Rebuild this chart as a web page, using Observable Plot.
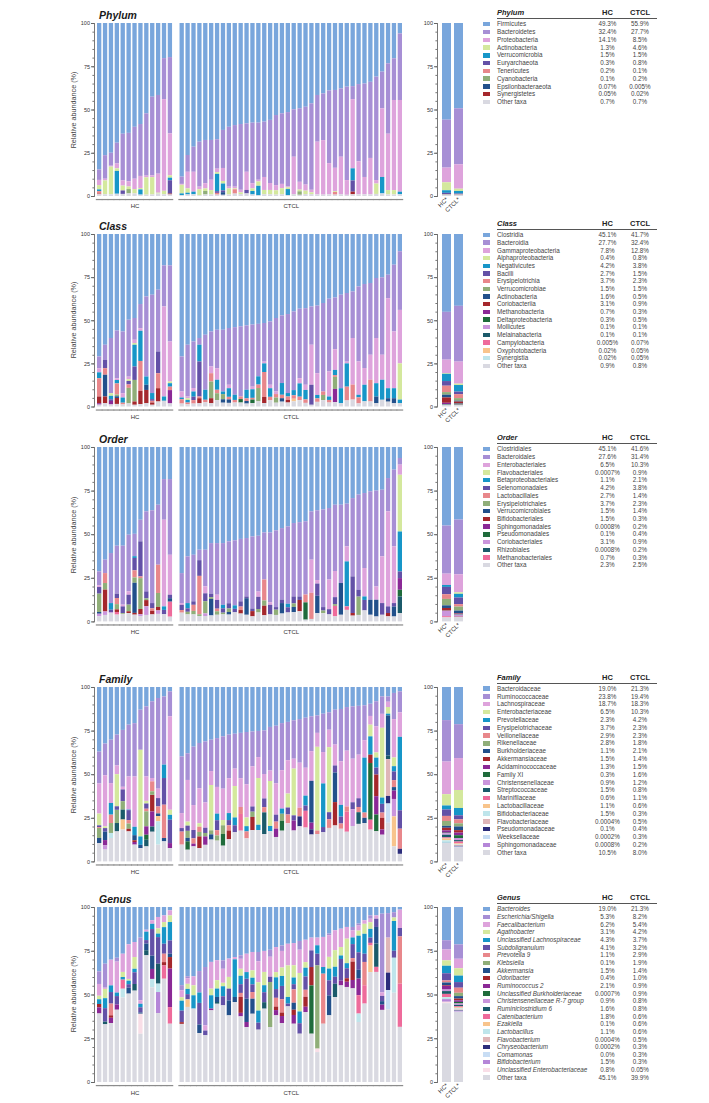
<!DOCTYPE html>
<html><head><meta charset="utf-8">
<script src="https://cdn.jsdelivr.net/npm/d3@7"></script>
<script src="https://cdn.jsdelivr.net/npm/@observablehq/plot@0.6"></script>
<style>
body{margin:0;background:#fff;}
#page{position:relative;width:709px;height:1103px;overflow:hidden;font-family:"Liberation Sans",Arial,Helvetica,sans-serif;color:#333;}
#page svg{position:absolute;}
.title{position:absolute;font-weight:bold;font-style:italic;font-size:10.5px;line-height:12px;color:#1a1a1a;white-space:nowrap;}
.ylab{position:absolute;width:140px;height:10px;line-height:10px;font-size:7.2px;color:#444;text-align:center;transform:rotate(-90deg);white-space:nowrap;}
.legend{position:absolute;width:180px;}
.legend div, .legend span{position:absolute;white-space:nowrap;}
.hdr{font-weight:bold;font-size:7.5px;line-height:8px;color:#222;}
.lrow{left:0;width:180px;font-size:6.3px;color:#444;}
.sw{left:0;width:7px;height:4.4px;}
.nm{left:14px;}
.v1{left:104.5px;width:40px;text-align:center;}
.v2{left:137px;width:40px;text-align:center;}
</style></head>
<body><div id="page"></div>
<script>
// ---------- palette ----------
const palette = ["#79a6dc","#a78fd5","#dea3dc","#d4e89d","#1796c8","#6351a7","#e8878b","#90ae79","#22508b","#a5272c","#8b2996","#1f6b3b","#ca95dc","#1b5a6a","#ee6b9b","#f8c48c","#bfe5eb","#dfb6b8","#2c2d7b","#c8ddf4","#b586d8","#f9dee7"];
const otherColor = "#d9d9e1";

// ---------- PHYLUM ----------
const phylumNames = ["Firmicutes","Bacteroidetes","Proteobacteria","Actinobacteria","Verrucomicrobia","Euryarchaeota","Tenericutes","Cyanobacteria","Epsilonbacteraeota","Synergistetes","Other taxa"];
const phylumCodes = ["Fir","Bac","Pro","Act","Ver","Eur","Ten","Cya","Eps","Syn","Oth"];
const phylumHCText = ["49.3%","32.4%","14.1%","1.3%","1.5%","0.3%","0.2%","0.1%","0.07%","0.05%","0.7%"];
const phylumCTCLText = ["55.9%","27.7%","8.5%","4.6%","1.5%","0.8%","0.1%","0.2%","0.005%","0.02%","0.7%"];
const phylumHC = [
{Fir:84.7,Bac:6,Pro:3,Act:2.5,Ver:1,Ten:1.5,Syn:0.3,Oth:1},
{Fir:76.4,Bac:13.6,Pro:1,Act:8,Oth:1},
{Fir:75,Bac:7.5,Pro:0.5,Act:16,Oth:1},
{Fir:69.2,Bac:12,Pro:2.8,Act:1.5,Ver:13.2,Oth:1.3},
{Fir:64,Bac:27,Pro:3,Act:2.8,Eur:2,Oth:1.2},
{Fir:63.5,Bac:28,Pro:3,Act:1.5,Cya:2.5,Oth:1.5},
{Fir:60,Bac:30,Pro:6,Act:2.5,Oth:1.5},
{Fir:58.4,Bac:30,Pro:7,Act:0.8,Ver:3,Oth:0.8},
{Fir:52.2,Bac:36,Pro:1,Act:10,Oth:0.8},
{Fir:42.6,Bac:45.5,Pro:1,Act:10,Oth:0.9},
{Fir:41.6,Bac:45.5,Pro:11,Act:0.5,Oth:1.4},
{Fir:20.3,Bac:23.7,Pro:53,Act:2,Oth:1},
{Fir:19.7,Bac:44.1,Pro:24.2,Act:1.4,Ver:1.5,Eur:7.7,Syn:0.5,Oth:0.9}];
const phylumCTCL = [
{Fir:88.8,Bac:4.2,Pro:0.5,Act:5,Ver:1,Oth:0.5},
{Fir:76.3,Bac:9.7,Pro:9.6,Act:2.5,Ver:1,Oth:0.9},
{Fir:71.5,Bac:14.5,Pro:11.5,Ver:1.5,Oth:1},
{Fir:68.6,Bac:26,Pro:1.5,Act:3.5,Oth:0.4},
{Fir:67.6,Bac:25,Pro:3,Act:1.5,Cya:2,Oth:0.9},
{Fir:67.6,Bac:23,Pro:6,Act:2.5,Oth:0.9},
{Fir:67.2,Bac:17,Pro:2,Act:1,Ver:10,Eur:1,Ten:1,Oth:0.8},
{Fir:61.8,Bac:22,Pro:7.5,Act:1.5,Ver:4,Eur:1,Eps:1.5,Oth:0.7},
{Fir:60,Bac:34.6,Pro:1,Act:3.5,Oth:0.9},
{Fir:59,Bac:35.6,Pro:1,Act:0.5,Ten:2.5,Oth:1.4},
{Fir:58.4,Bac:38,Pro:1.5,Act:1,Oth:1.1},
{Fir:58,Bac:28,Pro:10.5,Eur:2,Oth:1.5},
{Fir:57.6,Bac:35,Pro:3,Act:1.5,Ver:2,Oth:0.9},
{Fir:57.6,Bac:33,Pro:1,Act:2.5,Ver:5.5,Oth:0.4},
{Fir:57,Bac:32,Pro:7.5,Act:2.5,Oth:1},
{Fir:56,Bac:36.5,Pro:4,Act:2.5,Oth:1},
{Fir:53.2,Bac:40.5,Pro:3,Act:2.5,Oth:0.8},
{Fir:52.2,Bac:40.8,Pro:2.5,Act:3.5,Oth:1},
{Fir:51.5,Bac:43,Pro:0.5,Act:1,Ver:3.5,Oth:0.5},
{Fir:49.9,Bac:27.4,Pro:21.6,Oth:1.1},
{Fir:49.3,Bac:42.5,Pro:4.5,Act:1,Cya:2,Oth:0.7},
{Fir:48.4,Bac:45,Pro:3.5,Act:2,Oth:1.1},
{Fir:46.4,Bac:50,Pro:1.5,Act:1,Oth:1.1},
{Fir:41.6,Bac:27,Pro:30.5,Oth:0.9},
{Fir:40.7,Bac:27,Pro:31.5,Oth:0.8},
{Fir:39,Bac:42,Pro:18,Oth:1},
{Fir:38.7,Bac:45,Pro:13.5,Act:0.5,Ten:1.5,Oth:0.8},
{Fir:37.8,Bac:39.5,Pro:21.7,Oth:1},
{Fir:36.8,Bac:54,Pro:8.5,Oth:0.7},
{Fir:36.5,Bac:7.5,Pro:40,Ver:7,Eur:6.5,Syn:1.5,Oth:1},
{Fir:35.3,Bac:44.7,Pro:19,Oth:1},
{Fir:35,Bac:54,Pro:10,Oth:1},
{Fir:34,Bac:44,Pro:21,Oth:1},
{Fir:31,Bac:59.8,Pro:2,Act:6,Oth:1.2},
{Fir:28.1,Bac:21.2,Pro:39.7,Ver:9.5,Oth:1.5},
{Fir:23.3,Bac:40.7,Pro:32.6,Act:2.5,Oth:0.9},
{Fir:20.4,Bac:24.1,Pro:52.1,Act:2.5,Oth:0.9},
{Fir:6,Bac:38.5,Pro:53,Ver:1.5,Oth:1}];

// ---------- CLASS ----------
const classNames = ["Clostridia","Bacteroidia","Gammaproteobacteria","Alphaproteobacteria","Negativicutes","Bacilli","Erysipelotrichia","Verrucomicrobiae","Actinobacteria","Coriobacteriia","Methanobacteria","Deltaproteobacteria","Mollicutes","Melainabacteria","Campylobacteria","Oxyphotobacteria","Synergistia","Other taxa"];
const classCodes = ["Clo","Bac","Gam","Alp","Neg","Bai","Ery","Ver","Act","Cor","Met","Del","Mol","Mel","Cam","Oxy","Syn","Oth"];
const classHCText = ["45.1%","27.7%","7.8%","0.4%","4.2%","2.7%","3.7%","1.5%","1.6%","3.1%","0.7%","0.3%","0.1%","0.1%","0.005%","0.02%","0.02%","0.9%"];
const classCTCLText = ["41.7%","32.4%","12.8%","0.8%","3.8%","1.5%","2.3%","1.5%","0.5%","0.9%","0.3%","0.5%","0.1%","0.1%","0.07%","0.05%","0.05%","0.8%"];
const classHC = [
{Clo:71,Bac:6.8,Gam:2.4,Neg:3.4,Ery:10.6,Cor:3.9,Met:0.8,Oth:1.1},
{Clo:64.2,Bac:8.8,Bai:4.8,Ery:3.8,Act:12.6,Cor:3.9,Oth:1.9},
{Clo:60.3,Bac:32,Alp:1.5,Neg:2,Bai:1,Met:2,Oth:1.2},
{Clo:56.5,Bac:28,Gam:1,Neg:2,Ery:6.5,Ver:1,Act:1,Cor:3.5,Oth:1.5},
{Clo:56.5,Bac:35.8,Gam:2.5,Neg:3,Ery:1,Oth:1.2},
{Clo:49.7,Bac:33,Gam:1.5,Alp:1,Bai:2,Ery:2,Ver:9,Oth:1.8},
{Clo:48.7,Bac:12.6,Gam:1.9,Alp:1,Neg:12.6,Bai:7.8,Ver:12.5,Cor:1.9,Oth:1},
{Clo:40.6,Bac:14,Gam:1.5,Neg:17.5,Ery:17.3,Cor:7.7,Oth:1.4},
{Clo:36.2,Bac:46.4,Neg:4.8,Act:3,Cor:7.7,Oth:1.9},
{Clo:35.2,Bac:57,Neg:3.5,Bai:1,Ery:1,Cor:1.3,Oth:1},
{Clo:32.3,Bac:35.8,Bai:12.6,Ery:8.7,Cor:7.7,Oth:2.9},
{Clo:18.2,Bac:23.8,Gam:52.2,Neg:2.5,Oth:3.3},
{Clo:18.2,Bac:44.1,Gam:23.2,Alp:1,Neg:2,Ery:2,Met:7.7,Oth:1.8}];
const classCTCL = [
{Clo:71,Bac:20.3,Gam:3.5,Neg:1,Ery:2.5,Oth:1.7},
{Clo:64.2,Bac:30,Gam:1,Alp:1,Neg:1.5,Ery:1,Oth:1.3},
{Clo:62.3,Bac:27,Gam:2,Neg:3,Bai:2,Ery:2,Oth:1.7},
{Clo:60.3,Bac:3.9,Neg:9.7,Bai:20.3,Ery:1,Cor:2.9,Oth:1.9},
{Clo:58.4,Bac:31.9,Neg:5.8,Ery:1.5,Oth:2.4},
{Clo:56.5,Bac:20.3,Gam:3.9,Ery:4.8,Ver:9.7,Cor:2.9,Oth:1.9},
{Clo:55.5,Bac:22.3,Gam:6.7,Neg:5.8,Ery:2,Ver:4,Oth:3.7},
{Clo:55.5,Bac:35.8,Neg:1.5,Ver:3,Act:2,Oth:2.2},
{Clo:54.5,Bac:32.9,Gam:2,Neg:5,Ery:1.5,Act:2,Oth:2.1},
{Clo:54,Bac:39.2,Neg:3,Ery:1.5,Oth:2.3},
{Clo:53.5,Bac:40.7,Ery:1.5,Del:2,Oth:2.3},
{Clo:53,Bac:37.3,Neg:5,Ery:1.5,Act:1.5,Oth:1.7},
{Clo:52.5,Bac:36,Gam:1.5,Neg:5,Ery:1,Del:2,Oth:2},
{Clo:52.1,Bac:30.4,Neg:4.8,Ery:2,Ver:7.7,Oth:3},
{Clo:51.6,Bac:22.4,Gam:1,Neg:5,Ery:14.5,Cor:3.5,Oth:2},
{Clo:50.7,Bac:36.7,Gam:2,Neg:5,Ery:2,Oth:3.6},
{Clo:48.7,Bac:42.6,Gam:1.5,Ery:2,Ver:3,Oth:2.2},
{Clo:47.2,Bac:39.2,Neg:6.8,Ery:2,Act:2,Oth:2.8},
{Clo:46.4,Bac:45.8,Neg:2,Ery:2,Cor:1.5,Oth:2.3},
{Clo:44.9,Bac:45.6,Neg:3,Ery:2,Oxy:1.5,Oth:3},
{Clo:43.3,Bac:40.3,Gam:3,Neg:7.7,Ery:2,Oth:3.7},
{Clo:43,Bac:44.4,Gam:3,Neg:5.5,Ery:2,Oth:2.1},
{Clo:42,Bac:22.2,Gam:23.2,Bai:11.6,Oth:1},
{Clo:41.5,Bac:39.2,Gam:12.6,Neg:2,Ery:2,Oth:2.7},
{Clo:40,Bac:51.3,Ery:2,Ver:3,Oth:3.7},
{Clo:37.5,Bac:42.2,Gam:14.5,Neg:2,Ery:1.5,Oth:2.3},
{Clo:36.8,Bac:30,Gam:12,Neg:3,Ery:1,Ver:7,Met:7.7,Oth:2.5},
{Clo:35.2,Bac:54.2,Neg:8.7,Oth:1.9},
{Clo:34.2,Bac:39.8,Gam:1,Neg:13.5,Ery:8,Oth:3.5},
{Clo:33.3,Bac:27,Gam:27,Ery:8.7,Oth:4},
{Clo:30.4,Bac:43.5,Gam:19.3,Neg:1.5,Ery:3.5,Oth:1.8},
{Clo:29,Bac:48.7,Gam:9.7,Neg:9.6,Oth:3},
{Clo:28.4,Bac:41.6,Gam:14.5,Ery:12.6,Oth:2.9},
{Clo:25.5,Bac:34.8,Gam:26.2,Neg:7.7,Act:3.9,Oth:1.9},
{Clo:25.1,Bac:44.9,Gam:14.5,Neg:11.6,Oth:3.9},
{Clo:23.6,Bac:13.6,Gam:52.2,Neg:5.8,Act:2,Oth:2.8},
{Clo:17.8,Bac:38.7,Gam:32.9,Neg:5.8,Act:2.9,Oth:1.9},
{Clo:10,Bac:34,Gam:31,Alp:21,Neg:2,Oth:2}];

// ---------- ORDER ----------
const orderNames = ["Clostridiales","Bacteroidales","Enterobacteriales","Flavobacteriales","Betaproteobacteriales","Selenomonadales","Lactobacillales","Erysipelotrichales","Verrucomicrobiales","Bifidobacteriales","Sphingomonadales","Pseudomonadales","Coriobacteriales","Rhizobiales","Methanobacteriales","Other taxa"];
const orderCodes = ["Clo","Bac","Ent","Fla","Bet","Sel","Lac","Ery","Ver","Bif","Sph","Pse","Cor","Rhi","Met","Oth"];
const orderHCText = ["45.1%","27.6%","6.5%","0.0007%","1.1%","4.2%","2.7%","3.7%","1.5%","1.5%","0.0008%","0.1%","3.1%","0.0008%","0.7%","2.3%"];
const orderCTCLText = ["41.6%","31.4%","10.3%","0.9%","2.1%","3.8%","1.4%","2.3%","1.4%","0.3%","0.2%","0.4%","0.9%","0.2%","0.3%","2.5%"];
const orderHC = [
{Clo:71.3,Bac:8,Ent:1,Sel:3.8,Ery:10.5,Ver:1,Cor:1.5,Oth:2.9},
{Clo:64.6,Bac:7.7,Lac:5.7,Ery:3.8,Bif:12.5,Cor:2,Oth:3.7},
{Clo:60.8,Bac:28.7,Bet:3.8,Sel:1.5,Cor:0.4,Oth:4.8},
{Clo:56.6,Bac:27.5,Sel:2.5,Lac:3.5,Ery:3,Bif:1.5,Met:1.5,Oth:3.9},
{Clo:56.6,Bac:33.8,Ent:1,Sel:3.8,Ery:0.5,Oth:4.3},
{Clo:50.3,Bac:32.5,Ent:1.9,Sel:5.7,Ery:3.8,Bif:1,Oth:4.8},
{Clo:49,Bac:12.6,Bet:1,Sel:7,Lac:4,Ery:3,Ver:17,Bif:1,Oth:3.8},
{Clo:41.7,Bac:12.4,Sel:20.1,Lac:1,Ery:17.7,Bif:3,Cor:1,Oth:3.1},
{Clo:36.9,Bac:45.9,Sel:4,Ery:1,Bif:3.5,Cor:5,Oth:3.7},
{Clo:36.3,Bac:53.2,Sel:3,Lac:1.5,Bif:2,Oth:4},
{Clo:33.1,Bac:34.4,Lac:16.2,Ery:8,Bif:2,Cor:2,Oth:4.3},
{Clo:18.4,Bac:23.3,Ent:49.7,Bet:2,Sel:2.5,Oth:4.1},
{Clo:18.4,Bac:43.4,Ent:22.9,Sel:2,Ver:2,Met:8.6,Oth:2.7}];
const orderCTCL = [
{Clo:72.3,Bac:17.2,Ent:1,Sel:3,Lac:1.5,Oth:5},
{Clo:62.7,Bac:26.8,Bet:3,Sel:2,Ery:1.5,Oth:4},
{Clo:61.8,Bac:26.7,Sel:2,Lac:3.5,Ery:2,Oth:4},
{Clo:58.9,Bac:6,Sel:9,Lac:22,Ery:1,Oth:3.1},
{Clo:58.9,Bac:21,Ent:4,Sel:4.5,Ery:7,Cor:1.5,Oth:3.1},
{Clo:55.1,Bac:29,Sel:2,Ery:1,Ver:9.5,Oth:3.4},
{Clo:55.1,Bac:29.6,Ent:3,Sel:5,Lac:1.5,Ery:2,Oth:3.8},
{Clo:55.1,Bac:35.4,Bet:2,Sel:2.5,Ery:1,Oth:4},
{Clo:54.1,Bac:35.5,Sel:3,Ery:2,Ver:1.5,Oth:3.9},
{Clo:53.5,Bac:37.3,Bet:2,Sel:2,Oth:5.2},
{Clo:52.7,Bac:35.8,Sel:3,Lac:2,Bif:2,Oth:4.5},
{Clo:52.2,Bac:33.5,Sel:1,Ver:9.5,Oth:3.8},
{Clo:51.3,Bac:41.3,Sel:1.5,Bif:3,Oth:2.9},
{Clo:50.9,Bac:32,Ent:3,Sel:7,Ery:2,Oth:5.1},
{Clo:49,Bac:27,Lac:12,Ery:3,Bif:5.5,Oth:3.5},
{Clo:49,Bac:40,Ent:1.5,Sel:5.5,Oth:4},
{Clo:47.8,Bac:44,Sel:1.5,Ery:3,Oth:3.7},
{Clo:46.5,Bac:41,Sel:2,Ver:6,Oth:4.5},
{Clo:45.5,Bac:44.4,Bet:2,Sel:3,Oth:5.1},
{Clo:43.6,Bac:42.1,Sel:4,Ery:2,Ver:3,Oth:5.3},
{Clo:43.1,Bac:42.6,Sel:2,Bif:6.5,Oth:5.8},
{Clo:42.6,Bac:42,Lac:4.5,Pse:9.9,Oth:1},
{Clo:36.9,Bac:27.7,Ent:19,Lac:15,Oth:1.4},
{Clo:36.3,Bac:40,Ent:2,Sel:7,Ver:10,Oth:4.7},
{Clo:35.8,Bac:56,Sel:2,Ery:1.5,Oth:4.7},
{Clo:35,Bac:41,Ent:17,Sel:3,Oth:4},
{Clo:33.1,Bac:38,Ent:15,Sel:4,Ery:1,Met:6,Oth:2.9},
{Clo:33.1,Bac:44.9,Ver:18.2,Oth:3.8},
{Clo:32.5,Bac:24.5,Ent:8.6,Bet:25.8,Met:2,Oth:6.6},
{Clo:29.3,Bac:44.9,Sel:21,Bif:1.5,Oth:3.3},
{Clo:27.3,Bac:54.5,Sel:4,Ery:10.5,Oth:3.7},
{Clo:26.4,Bac:43,Ent:16.3,Bet:2,Sel:6,Oth:6.3},
{Clo:25.4,Bac:62.2,Ver:8.6,Oth:3.8},
{Clo:25,Bac:55,Ent:7.6,Ver:9.6,Oth:2.8},
{Clo:24.5,Bac:38.2,Ent:26.8,Sel:6.7,Oth:3.8},
{Clo:17.8,Bac:19.1,Ent:54.5,Sel:3.8,Bif:1.9,Oth:2.9},
{Clo:13,Bac:44,Ent:32.5,Sel:2,Ver:5.7,Oth:2.8},
{Clo:6.3,Bac:3.8,Ent:5.8,Fla:32.5,Bet:22.9,Sel:3.8,Sph:6.7,Pse:3.8,Rhi:9.5,Oth:4.8}];

// ---------- FAMILY ----------
const familyNames = ["Bacteroidaceae","Ruminococcaceae","Lachnospiraceae","Enterobacteriaceae","Prevotellaceae","Erysipelotrichaceae","Veillonellaceae","Rikenellaceae","Burkholderiaceae","Akkermansiaceae","Acidaminococcaceae","Family XI","Christensenellaceae","Streptococcaceae","Marinifilaceae","Lactobacillaceae","Bifidobacteriaceae","Flavobacteriaceae","Pseudomonadaceae","Weeksellaceae","Sphingomonadaceae","Other taxa"];
const familyCodes = ["Bac","Rum","Lac","Ent","Pre","Ery","Vei","Rik","Bur","Akk","Aci","FXI","Chr","Str","Mar","Lab","Bif","Fla","Pse","Wee","Sph","Oth"];
const familyHCText = ["19.0%","23.8%","18.7%","6.5%","2.3%","3.7%","2.9%","2.8%","1.1%","1.5%","1.3%","0.3%","0.9%","1.5%","0.6%","1.1%","1.5%","0.0004%","0.1%","0.0002%","0.0008%","10.5%"];
const familyCTCLText = ["21.3%","19.4%","18.3%","10.3%","4.2%","2.3%","2.3%","1.8%","2.1%","1.4%","1.5%","1.6%","1.2%","0.8%","1.1%","0.6%","0.3%","0.5%","0.4%","0.3%","0.2%","8.0%"];
const familyHC = [
{Bac:36.9,Rum:18.2,Lac:17.2,Ent:6.7,Rik:5.7,Bur:2.9,Ery:1,Vei:0.5,Oth:10.5},
{Bac:32.1,Rum:18,Lac:29,Ent:1,Ery:2,Bur:4.8,Aci:3,Chr:2.4,Oth:6.7},
{Bac:30.2,Rum:24.9,Lac:11.4,Pre:6.7,Vei:4.8,Rik:5.7,Bif:2.9,Oth:13.4},
{Bac:27.3,Rum:17.7,Lac:5,Ent:18.4,Rik:7.6,Str:4.8,Ery:2,Oth:17.2},
{Bac:24.5,Rum:32.5,Lac:1.5,Ery:6.7,Rik:4.8,Str:5.7,Lab:5.7,Oth:18.2},
{Bac:21.6,Rum:29.7,Lac:19,Pre:0.3,Ery:5.7,Vei:2,Rik:3,Akk:1.5,Oth:17.2},
{Bac:20.7,Rum:30.5,Lac:28.8,Pre:4.8,Bur:2.9,Aci:1.5,Akk:1,Oth:9.6},
{Bac:13,Rum:23,Ent:49.7,Pre:4.8,Bur:1.9,Oth:7.6},
{Bac:11.1,Rum:40.2,Lac:14,Ent:1.5,Ery:3,Vei:1.5,Rik:8.6,Aci:4.8,FXI:2.9,Str:3.8,Oth:8.6},
{Bac:8.2,Rum:44,Lac:1.9,Vei:5.7,Akk:9.6,Aci:8.6,Rik:2,Str:3,Oth:17},
{Bac:6.3,Rum:52,Lac:5.4,Ery:4.8,Vei:4,Bur:1.5,Lab:3,Bif:13.4,Oth:9.6},
{Bac:5.4,Rum:39.1,Pre:7.7,Ery:15.3,Vei:19.1,Bur:1.9,Oth:11.5},
{Bac:2.5,Rum:14.3,Lac:53.6,Ent:2.9,Pre:2.8,Ery:13.4,Aci:2.9,Oth:7.6}];
const familyCTCL = [
{Bac:39.8,Rum:32.5,Lac:8.6,Vei:7.6,Ery:1.9,Oth:9.6},
{Bac:38,Rum:15.3,Lac:23.9,Ent:2.3,Ery:3,Rik:4,Bur:2,FXI:4.8,Oth:6.7},
{Bac:34.2,Rum:33.5,Lac:14.3,Ery:4.8,Vei:3,Aci:1.6,Oth:8.6},
{Bac:32.1,Rum:26,Lac:20,Ent:2,Vei:3,Rik:2.6,Akk:6.7,Oth:7.6},
{Bac:31.2,Rum:35,Lac:14.5,Ery:3,Rik:2,Aci:4.8,Oth:9.5},
{Bac:30.2,Rum:18,Lac:8,Ent:26,Rik:2.3,Bur:3,Oth:12.5},
{Bac:29.3,Rum:28,Lac:15.3,Pre:3.8,Ery:5.7,Vei:3,Rik:3,Oth:11.9},
{Bac:28.3,Rum:30,Lac:18,Ent:3,Rik:5,FXI:6.7,Oth:9},
{Bac:27.3,Rum:25,Lac:20,Pre:4,Ery:3,Vei:3,Akk:5,Oth:12.7},
{Bac:26.8,Rum:20,Lac:10,Ent:18,Pre:4.5,Ery:4,Oth:16.7},
{Bac:26.3,Rum:26,Lac:16.5,Vei:4,Mar:9.6,Oth:17.6},
{Bac:25.8,Rum:30,Lac:19,Ent:5,Pre:3,Vei:4,Oth:13.2},
{Bac:25.5,Rum:20,Lac:23,Ery:3,Rik:3,Akk:7.6,Oth:17.9},
{Bac:25.2,Rum:15,Lac:12,Ent:26.8,Pre:3,Oth:18},
{Bac:24.9,Rum:25,Lac:14,Ery:5,Vei:3,Str:12.4,Oth:15.7},
{Bac:22.9,Rum:25,Lac:6,Ent:25.8,Pre:3,Oth:17.3},
{Bac:22.2,Rum:33,Lac:18,Ery:4,Vei:4,Aci:4.8,Oth:14},
{Bac:20.7,Rum:27,Lac:22,Pre:3,Rik:4,FXI:5.7,Oth:17.6},
{Bac:20,Rum:22,Lac:19.1,Ent:8,Ery:4,Vei:5,Oth:21.9},
{Bac:19.1,Rum:22,Lac:5.7,Ent:26.8,Ery:3,Aci:5.7,Oth:17.7},
{Bac:18.4,Rum:25,Lac:25.8,Vei:5,Pse:5.7,Oth:20.1},
{Bac:17.6,Rum:28.7,Lac:16,Pre:5.7,Ery:3,Mar:9.6,Oth:19.4},
{Bac:16.8,Rum:20,Lac:17,Bur:24,Aci:3.8,Pse:3,Oth:15.4},
{Bac:16.3,Rum:10,Lac:8,Ent:48,Vei:2,Oth:15.7},
{Bac:15.3,Rum:22,Lac:18,Pre:25,Ery:3,Oth:16.7},
{Bac:14.5,Rum:10,Lac:10,Ent:37.3,Ery:4,Vei:5,Oth:19.2},
{Bac:13,Rum:20,Lac:12,Ery:4,Bur:17,Akk:13.4,Oth:20.6},
{Bac:12.6,Rum:30,Lac:25,Pre:6.7,Ery:4,Vei:3,Oth:18.7},
{Bac:11.5,Rum:25,Lac:32,Vei:3,Mar:11.5,Oth:17},
{Bac:11.1,Rum:30,Lac:25,Ery:4,Chr:9.6,Oth:20.3},
{Bac:10.8,Rum:28,Lac:25,Ery:5,Vei:3,Str:6.7,Oth:21.5},
{Bac:10.5,Rum:20,Lac:10,Pre:31.5,Vei:3,Bur:3,Oth:22},
{Bac:9.6,Rum:7,Lac:5,Ent:6.7,Pre:10.5,Akk:4.8,FXI:32.5,Mar:5.7,Oth:18.2},
{Bac:8.2,Rum:14.3,Lac:15,Ent:3,Pre:5.7,Ery:4,Akk:12.4,Aci:10.5,FXI:9.6,Oth:17.3},
{Bac:5.4,Rum:10,Lac:8,Ent:40,Pre:3.6,Ery:5,Vei:3,Akk:6.7,Aci:3,Oth:15.3},
{Bac:5.4,Rum:3,Lac:3,Ent:3.8,Pre:1,Bur:22.9,Str:2,Fla:21,Pse:4.3,Wee:11,Oth:22},
{Bac:3.4,Rum:15,Lac:22,Ent:5,Pre:3,Ery:5,Vei:4,Bur:2,Aci:4.8,Chr:10,Lab:17.2,Oth:8.6},
{Bac:2.5,Rum:12,Lac:14,Pre:42,Ery:10.5,Vei:11.5,Pse:2.9,Oth:4.3}];

// ---------- GENUS ----------
const genusNames = ["Bacteroides","Escherichia/Shigella","Faecalibacterium","Agathobacter","Unclassified Lachnospiraceae","Subdoligranulum","Prevotella 9","Klebsiella","Akkermansia","Odoribacter","Ruminococcus 2","Unclassified Burkholderiaceae","Christensenellaceae R-7 group","Ruminiclostridium 6","Catenibacterium","Ezakiella","Lactobacillus","Flavobacterium","Chryseobacterium","Comamonas","Bifidobacterium","Unclassified Enterobacteriaceae","Other taxa"];
const genusCodes = ["Bac","Esc","Fae","Aga","ULa","Sub","Pr9","Kle","Akk","Odo","Ru2","UBu","Chr","Rc6","Cat","Eza","Lab","Fla","Chy","Com","Bif","UEn","Oth"];
const genusHCText = ["19.0%","5.3%","6.2%","3.1%","4.3%","4.1%","1.1%","0.1%","1.5%","0.4%","2.1%","0.0007%","0.9%","1.6%","1.8%","0.1%","1.1%","0.0004%","0.0002%","0.0%","1.5%","0.8%","45.1%"];
const genusCTCLText = ["21.3%","8.2%","5.4%","4.2%","3.7%","3.2%","2.9%","1.9%","1.4%","1.0%","0.9%","0.9%","0.8%","0.8%","0.6%","0.6%","0.6%","0.5%","0.3%","0.3%","0.3%","0.05%","39.9%"];
const genusHC = [
{Bac:36.6,Esc:7.2,Fae:6.7,Aga:2,ULa:2.7,Odo:1.9,Ru2:3.5,Oth:39},
{Bac:32.4,Esc:13.7,Fae:0.7,Aga:5.3,ULa:5.7,Sub:7.7,Rc6:1.5,Oth:33},
{Bac:30.1,Fae:14.7,ULa:3.8,Sub:6.6,Pr9:6.7,Odo:1.4,Ru2:3,Oth:33.7},
{Bac:29,Esc:2.2,Fae:17.7,ULa:2,Sub:4.8,Ru2:3,Oth:41.3},
{Bac:26.7,Fae:10.4,Aga:2.9,ULa:1.5,Cat:5.2,Lab:5,Oth:48.3},
{Bac:21.3,Fae:19.8,Aga:1,ULa:2,Sub:2,Akk:3.4,Oth:50.5},
{Bac:20,Fae:8.6,Aga:6.7,ULa:2,Sub:6.7,Rc6:3.8,Oth:52.2},
{Bac:17.5,Esc:35.8,Fae:2,ULa:2,Sub:3,Akk:0.7,UEn:11.4,Oth:27.6},
{Bac:13,Fae:1.1,ULa:4.8,Sub:2,Akk:3.8,Rc6:2.9,Oth:72.4},
{Bac:7.6,Fae:2,ULa:3,Sub:15.2,Akk:7.6,Ru2:5.7,Lab:4.8,Oth:54.1},
{Bac:5.7,Fae:6.5,Aga:3,ULa:2,Sub:15.2,Rc6:11.4,Lab:4.8,Bif:12,Oth:39.4},
{Bac:4.8,Fae:3.8,Aga:2.9,ULa:9.5,Sub:5.7,Pr9:4.8,Odo:1.9,Cat:7.6,Oth:59},
{Bac:1.9,Fae:2.9,Aga:3.8,ULa:10.5,Sub:7.6,Akk:1.9,Odo:6.6,Ru2:22,Cat:9.5,Oth:33.3}];
const genusCTCL = [
{Bac:44.8,Esc:2.9,Fae:4,Aga:2,ULa:5.7,Sub:6.6,Odo:1,Oth:33.3},
{Bac:39.6,Esc:1.1,Fae:3.2,Aga:2.9,ULa:3,Sub:3,Eza:4.3,Oth:42.9},
{Bac:39.6,Fae:5.1,Aga:5.7,ULa:7.6,Oth:41.9},
{Bac:36.6,Esc:12,Fae:0.2,ULa:6,Sub:12.4,Akk:4.8,Oth:28},
{Bac:34.3,Esc:33.3,Fae:3,Sub:2.7,Oth:26.7},
{Bac:31.4,Fae:15.3,Aga:3.8,ULa:7.6,Ru2:1,Oth:41},
{Bac:30.5,Fae:11.4,Aga:4.8,ULa:4.8,Akk:2.9,Rc6:1,Oth:44.8},
{Bac:30.5,Esc:4.8,Fae:8,Aga:2,ULa:5.7,Sub:5.2,Oth:43.8},
{Bac:29.5,Fae:10.5,Aga:6.7,Sub:6.7,Akk:8.6,Oth:38.1},
{Bac:28.6,Fae:1.3,ULa:21.5,Akk:2.9,Oth:45.7},
{Bac:27.6,Esc:2,Fae:5.7,Aga:4,ULa:4.8,Sub:5,Pr9:2.3,Odo:9.1,Ru2:2,Oth:37.5},
{Bac:26.7,Fae:10.5,ULa:3.8,Sub:11.4,Akk:13.3,Ru2:2.9,Oth:31.4},
{Bac:25.7,Fae:10.5,Aga:4.2,ULa:3.8,Sub:4.4,Pr9:3.8,Akk:8.6,Oth:39},
{Bac:25.7,Esc:5.3,Fae:12,Aga:16.2,ULa:6.9,Sub:4,Oth:29.9},
{Bac:25.1,Fae:12,Aga:7.6,ULa:4,Sub:5.7,Rc6:3.7,Oth:41.9},
{Bac:24.4,Esc:4,Fae:11.4,Sub:3,Kle:25.7,Oth:31.4},
{Bac:22.9,Fae:14.3,Aga:3,ULa:6.7,Sub:5,Pr9:5,Odo:2,Ru2:3,Oth:38.1},
{Bac:22,Esc:3.1,Fae:9.5,Aga:4.8,ULa:5.7,Sub:7.6,Pr9:7.6,Odo:2,Ru2:4,Oth:33.7},
{Bac:21,Fae:12.4,Aga:18,ULa:3.8,Sub:1.6,Oth:43.2},
{Bac:20.6,Fae:12.7,Aga:7,ULa:3.8,Sub:3,Pr9:7.6,Akk:4,Odo:3,Ru2:5,Oth:33.3},
{Bac:19.4,Esc:5,Fae:13.3,Aga:22,ULa:6.7,Sub:6,Oth:27.6},
{Bac:18.7,Fae:12.8,Aga:3.2,ULa:5,Sub:7.6,Pr9:4,Odo:5.7,Ru2:3,Oth:40},
{Bac:17.5,Fae:7.3,Sub:9.5,Odo:10.5,UBu:27.6,Oth:27.6},
{Bac:17.5,Fae:4.4,ULa:4.8,Sub:6.7,Kle:47.6,UEn:2,Oth:17.1},
{Bac:17.1,Fae:17.2,ULa:3.8,Pr9:28.6,Oth:33.3},
{Bac:15.2,Esc:0.9,Fae:12.4,Aga:6.7,ULa:6.7,Sub:8.6,Akk:11.4,Oth:38.1},
{Bac:13.3,Fae:11.4,Aga:9.5,ULa:5.7,Sub:4,Rc6:7.6,Oth:48.6},
{Bac:12.4,Fae:10.5,Aga:4.8,ULa:2,Sub:12.4,Ru2:2.7,Oth:55.2},
{Bac:11.4,Fae:6.7,Aga:14,ULa:2.9,Sub:5.7,Odo:2,Ru2:3,Oth:54.3},
{Bac:11.4,Esc:2,Fae:4,ULa:3.8,Sub:8,Pr9:2,Odo:10.5,Ru2:4.8,Oth:53.5},
{Bac:9.5,Esc:1.1,Fae:2.9,Aga:2.9,ULa:9.5,Sub:10,Akk:5,Ru2:9.5,Cat:10.5,Lab:4.8,Oth:34.3},
{Bac:7.6,Fae:2,Aga:5.7,ULa:11.4,Sub:4.7,Pr9:13.3,Cat:10.5,Oth:44.8},
{Bac:4.8,Esc:1.9,Fae:2,Aga:3.8,ULa:5,Sub:3,Cat:1.5,Eza:15.2,Oth:62.8},
{Bac:4.8,Fae:1.9,Sub:4.7,Akk:9.5,Rc6:13.3,Cat:2.9,Oth:62.9},
{Bac:3.8,Esc:45,Fae:2,Sub:3,Akk:2,Ru2:3,Oth:41.2},
{Bac:3.5,Esc:14,Fla:20,Chy:10,Com:11,Oth:41.5},
{Bac:3,Esc:3,Aga:2,ULa:17,Sub:4,Lab:20,Oth:51},
{Bac:1.5,Fae:10.5,Sub:4.8,Pr9:27,Cat:24.7,Oth:31.5}];

// ---------- layout ----------
const FONT = '"Liberation Sans", Arial, Helvetica, sans-serif';
const page = document.getElementById("page");
const panels = [
  {title:"Phylum", names:phylumNames, codes:phylumCodes, hcText:phylumHCText, ctText:phylumCTCLText, hc:phylumHC, ctcl:phylumCTCL, T:23, B:196, lineY:18.3, rowH:7.77, swap:true},
  {title:"Class", names:classNames, codes:classCodes, hcText:classHCText, ctText:classCTCLText, hc:classHC, ctcl:classCTCL, T:234, B:406.5, lineY:229, rowH:7.69},
  {title:"Order", names:orderNames, codes:orderCodes, hcText:orderHCText, ctText:orderCTCLText, hc:orderHC, ctcl:orderCTCL, T:447.3, B:621.7, lineY:443.3, rowH:7.73},
  {title:"Family", names:familyNames, codes:familyCodes, hcText:familyHCText, ctText:familyCTCLText, hc:familyHC, ctcl:familyCTCL, T:687.3, B:861.7, lineY:682.7, rowH:7.81},
  {title:"Genus", names:genusNames, codes:genusCodes, hcText:genusHCText, ctText:genusCTCLText, hc:genusHC, ctcl:genusCTCL, T:906.7, B:1081.7, lineY:903.3, rowH:7.65, italic:true}
];

function yAxes() {
  return [
    Plot.axisY({ticks: d3.range(0, 101, 5).map(d => d / 100), tickSize: 1.6, tickFormat: () => "", stroke: "#777", label: null}),
    Plot.axisY({ticks: [0, 0.25, 0.5, 0.75, 1], tickSize: 3, tickPadding: 1.5, tickFormat: d => String(Math.round(d * 100)), fontSize: 5.5, fill: "#333", stroke: "#666", label: null}),
    Plot.frame({anchor: "left", stroke: "#777"})
  ];
}

function buildPanel(p) {
  const taxa = p.names;
  const colors = palette.slice(0, taxa.length - 1).concat(otherColor);
  const color = {domain: taxa, range: colors};
  const order = taxa.slice().reverse();
  const hcIds = p.hc.map((_, i) => "h" + (i + 1));
  const ctIds = p.ctcl.map((_, i) => "c" + (i + 1));
  const ids = [...hcIds, "gap", ...ctIds];
  const rows = [];
  const push = (id, s) => { for (const [k, v] of Object.entries(s)) rows.push({sample: id, taxon: taxa[p.codes.indexOf(k)], value: v}); };
  p.hc.forEach((s, i) => push(hcIds[i], s));
  p.ctcl.forEach((s, i) => push(ctIds[i], s));
  const mt = 6, mb = 24, H = p.B - p.T;

  const main = Plot.plot({
    width: 352, height: H + mt + mb, marginTop: mt, marginBottom: mb, marginLeft: 34, marginRight: 10,
    x: {domain: ids, paddingInner: 0.27, paddingOuter: 0, insetLeft: 3, axis: null},
    y: {domain: [0, 1], label: null},
    color,
    style: {fontFamily: FONT, background: "transparent", overflow: "visible"},
    marks: [
      Plot.barY(rows, Plot.stackY({x: "sample", y: "value", fill: "taxon", order, offset: "normalize"})),
      ...yAxes(),
      Plot.barY([...hcIds, ...ctIds].map(s => ({sample: s})), {x: "sample", y1: -0.017, y2: -0.024, fill: "#8c8c8c", insetLeft: -1.2, insetRight: -1.2}),
      Plot.text([{s: "h7", t: "HC"}], {x: "s", y: -0.058, text: "t", fontSize: 6, fill: "#333"}),
      Plot.text([{s: "c20", t: "CTCL"}], {x: "s", y: -0.058, text: "t", fontSize: 6, fill: "#333", dx: -2.95})
    ]
  });
  main.style.left = "60px";
  main.style.top = (p.T - mt) + "px";
  page.appendChild(main);

  // summary bars
  const hcNum = p.hcText.map(parseFloat), ctNum = p.ctText.map(parseFloat);
  const sHC = p.swap ? ctNum : hcNum, sCT = p.swap ? hcNum : ctNum;
  const sumRows = [];
  taxa.forEach((t, i) => { sumRows.push({sample: "HC*", taxon: t, value: sHC[i]}); sumRows.push({sample: "CTCL*", taxon: t, value: sCT[i]}); });
  const summary = Plot.plot({
    width: 75, height: H + mt + 34, marginTop: mt, marginBottom: 34, marginLeft: 27, marginRight: 22,
    x: {domain: ["HC*", "CTCL*"], paddingInner: 0.28, paddingOuter: 0, insetLeft: 4.5, label: null},
    y: {domain: [0, 1], label: null},
    color,
    style: {fontFamily: FONT, background: "transparent", overflow: "visible"},
    marks: [
      Plot.barY(sumRows, Plot.stackY({x: "sample", y: "value", fill: "taxon", order, offset: "normalize"})),
      ...yAxes(),
      Plot.axisX({tickSize: 0, tickRotate: -45, tickPadding: 2, fontSize: 6, fill: "#333", label: null})
    ]
  });
  summary.style.left = "410px";
  summary.style.top = (p.T - mt) + "px";
  page.appendChild(summary);

  // title
  const title = document.createElement("div");
  title.className = "title";
  title.textContent = p.title;
  title.style.left = "99px";
  title.style.top = (p.T - 14) + "px";
  page.appendChild(title);

  // y label
  const yl = document.createElement("div");
  yl.className = "ylab";
  yl.textContent = "Relative abundance (%)";
  yl.style.left = (73.5 - 70) + "px";
  yl.style.top = ((p.T + p.B) / 2 - 5) + "px";
  page.appendChild(yl);

  // legend table
  const lg = document.createElement("div");
  lg.className = "legend";
  lg.style.left = "483px";
  lg.style.top = (p.lineY - 10) + "px";
  let html = `<span class="hdr" style="left:14px;top:1px;font-style:italic">${p.title}</span>` +
    `<span class="hdr" style="left:104.5px;width:40px;text-align:center;top:1px">HC</span>` +
    `<span class="hdr" style="left:137px;width:40px;text-align:center;top:1px">CTCL</span>` +
    `<div style="left:14px;top:10px;width:160px;height:0;border-top:1.1px solid #555"></div>`;
  const r0 = 10 + 6 - p.rowH / 2;
  taxa.forEach((t, i) => {
    const it = p.italic && t !== "Other taxa" ? "font-style:italic;" : "";
    html += `<div class="lrow" style="top:${r0 + i * p.rowH}px;height:${p.rowH}px;line-height:${p.rowH}px">` +
      `<span class="sw" style="top:${(p.rowH - 4.4) / 2}px;background:${colors[i]}"></span>` +
      `<span class="nm" style="${it}">${t}</span>` +
      `<span class="v1">${p.hcText[i]}</span><span class="v2">${p.ctText[i]}</span></div>`;
  });
  lg.innerHTML = html;
  page.appendChild(lg);
}

panels.forEach(buildPanel);
</script>
</body></html>
